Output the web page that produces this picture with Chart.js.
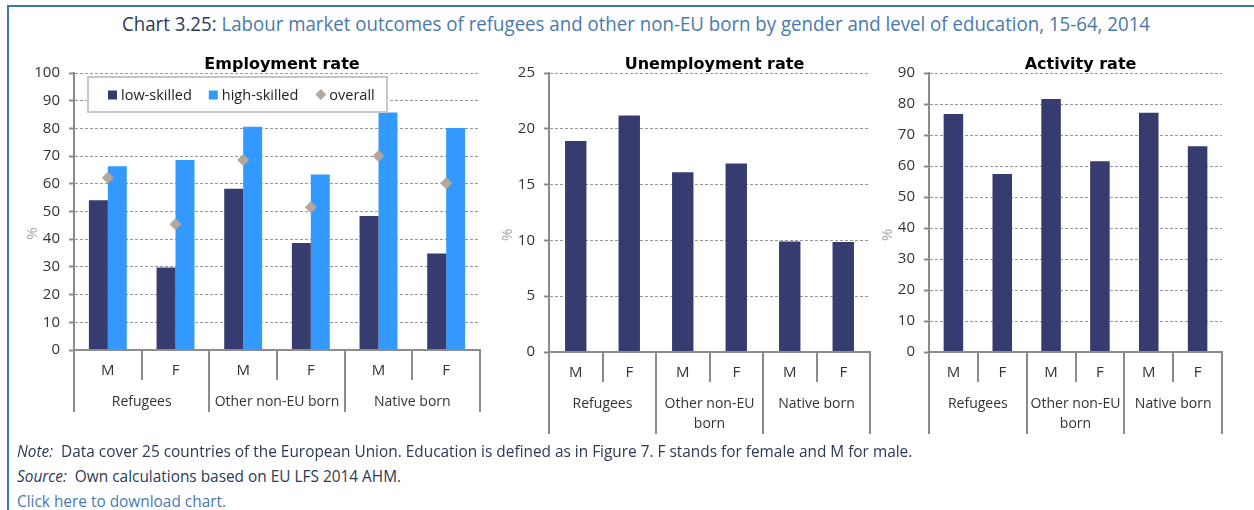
<!DOCTYPE html>
<html>
<head>
<meta charset="utf-8">
<script src="https://cdn.jsdelivr.net/npm/chart.js@4.4.1/dist/chart.umd.min.js"></script>
<style>
  html, body { margin: 0; padding: 0; background: #fff; }
  body { width: 1254px; height: 510px; overflow: hidden; position: relative; font-family: "Open Sans", sans-serif; }
  #frame { position: absolute; left: 7px; top: 5px; width: 1400px; height: 700px;
           border-left: 2px solid #3f73ad; border-top: 2px solid #3f73ad; }
  #title { position: absolute; left: 122px; top: 11px; font-size: 20px; line-height: 26px;
           color: #4a79ad; white-space: nowrap; transform-origin: 0 50%; }
  #title .num { color: #2b3a55; }
  canvas { position: absolute; top: 0; }
  .foot { position: absolute; left: 17px; font-size: 15.4px; line-height: 18px; color: #2b3a55; white-space: nowrap; }
  .foot.link { color: #4a79ad; }
</style>
</head>
<body>
<div id="frame"></div>
<div id="title"><span class="num">Chart 3.25:</span> Labour market outcomes of refugees and other non-EU born by gender and level of education, 15-64, 2014</div>
<canvas id="emp" width="490" height="445" style="left:0px"></canvas>
<canvas id="unemp" width="390" height="445" style="left:490px"></canvas>
<canvas id="act" width="374" height="445" style="left:880px"></canvas>
<div class="foot" style="top:443px"><i>Note:</i>&nbsp; Data cover 25 countries of the European Union. Education is defined as in Figure 7. F stands for female and M for male.</div>
<div class="foot" style="top:468px"><i>Source:</i>&nbsp; Own calculations based on EU LFS 2014 AHM.</div>
<div class="foot link" style="top:493px">Click here to download chart.</div>

<script>
// categories
const sexLabels = ['M', 'F', 'M', 'F', 'M', 'F'];
const groupLabels = ['Refugees', 'Other non-EU born', 'Native born'];

// employment rate (%)
const empLow = [54.1, 29.8, 58.2, 38.6, 48.4, 34.8];
const empHigh = [66.3, 68.6, 80.6, 63.4, 85.7, 80.1];
const empOverall = [62.2, 45.4, 68.6, 51.5, 70.0, 60.2];
// unemployment rate (%)
const unempRate = [18.9, 21.2, 16.1, 16.9, 9.9, 9.85];
// activity rate (%)
const actRate = [76.8, 57.4, 81.6, 61.5, 77.2, 66.4];

const NAVY = '#363b70';
const LIGHT = '#3399ff';
const TAUPE = '#b4a79d';
const AXIS = '#8c8c8c';

// fit title to the reference width
const t = document.getElementById('title');
t.style.transform = 'scaleX(' + (1028 / t.getBoundingClientRect().width) + ')';

function wrap(ctx, text, maxW) {
  const words = text.split(' ');
  const lines = [];
  let cur = '';
  words.forEach(w => {
    const test = cur ? cur + ' ' + w : w;
    if (cur && ctx.measureText(test).width > maxW) { lines.push(cur); cur = w; }
    else cur = test;
  });
  lines.push(cur);
  return lines;
}

function panelPlugin(cfg) {
  return {
    id: 'panel',
    afterDraw(chart) {
      const ctx = chart.ctx, a = chart.chartArea, x = chart.scales.x;
      const n = chart.data.labels.length;
      const per = n / groupLabels.length;
      const edge = i => i === 0 ? a.left : i === n ? a.right
        : (x.getPixelForValue(i - 1) + x.getPixelForValue(i)) / 2;
      ctx.save();

      // panel title
      ctx.fillStyle = '#000';
      ctx.font = 'bold 16px "DejaVu Sans"';
      ctx.textAlign = 'center';
      ctx.textBaseline = 'middle';
      ctx.fillText(cfg.title, (a.left + a.right) / 2 + 5, a.top - 8);

      // % axis label
      ctx.save();
      ctx.translate(a.left - 41, a.top + a.height * 0.58);
      ctx.rotate(-Math.PI / 2);
      ctx.fillStyle = '#a6a6a6';
      ctx.font = '15px "Open Sans"';
      ctx.fillText('%', 0, 0);
      ctx.restore();

      // two level category axis
      ctx.font = '14px "Open Sans"';
      const groupLines = groupLabels.map((g, k) => wrap(ctx, g, edge((k + 1) * per) - edge(k * per) - 6));
      const maxLines = Math.max(...groupLines.map(l => l.length));
      const gBottom = a.bottom + 42 + maxLines * 20;
      ctx.strokeStyle = AXIS;
      ctx.lineWidth = 2;
      ctx.beginPath();
      ctx.moveTo(a.left - 1, a.bottom);
      ctx.lineTo(a.right + 1, a.bottom);
      for (let i = 0; i <= n; i++) {
        const px = Math.round(edge(i));
        ctx.moveTo(px, a.bottom);
        ctx.lineTo(px, i % per === 0 ? gBottom : a.bottom + 30);
      }
      ctx.stroke();

      ctx.fillStyle = '#333';
      ctx.font = '15px "Open Sans"';
      chart.data.labels.forEach((s, i) => ctx.fillText(s, x.getPixelForValue(i), a.bottom + 21));
      ctx.font = '14px "Open Sans"';
      groupLines.forEach((lines, k) => {
        const cx = (edge(k * per) + edge((k + 1) * per)) / 2;
        lines.forEach((ln, j) => ctx.fillText(ln, cx, a.bottom + 52 + j * 20));
      });

      // legend box inside the plot
      if (cfg.legend) {
        const bx = a.left + 14, by = a.top + 4, bw = 299, bh = 35;
        ctx.fillStyle = '#fff';
        ctx.fillRect(bx, by, bw, bh);
        ctx.strokeStyle = '#c8c8c8';
        ctx.lineWidth = 2;
        ctx.strokeRect(bx, by, bw, bh);
        ctx.font = '14.5px "Open Sans"';
        ctx.textAlign = 'left';
        const cy = by + bh / 2;
        let cx = bx + 20;
        chart.data.datasets.forEach(ds => {
          ctx.fillStyle = ds.backgroundColor;
          let tx;
          if (ds.type === 'line') {
            ctx.fillStyle = ds.pointBackgroundColor;
            ctx.beginPath();
            ctx.moveTo(cx, cy); ctx.lineTo(cx + 5.5, cy - 5.5);
            ctx.lineTo(cx + 11, cy); ctx.lineTo(cx + 5.5, cy + 5.5);
            ctx.closePath(); ctx.fill();
            tx = cx + 14;
          } else {
            ctx.fillRect(cx, cy - 4, 9, 9);
            tx = cx + 13;
          }
          ctx.fillStyle = '#222';
          ctx.fillText(ds.label, tx, cy + 1);
          cx = tx + ctx.measureText(ds.label).width + 17;
        });
      }
      ctx.restore();
    }
  };
}

function yScale(max, step, width) {
  return {
    min: 0, max: max,
    afterFit: s => { s.width = width; },
    ticks: { stepSize: step, padding: 9, color: '#333', font: { family: 'Open Sans', size: 15 } },
    grid: { color: '#999', lineWidth: 1, tickLength: 5, tickColor: AXIS, tickWidth: 2 },
    border: { display: true, color: AXIS, width: 2, dash: [3, 2] }
  };
}

function makeChart(id, datasets, opts) {
  return new Chart(document.getElementById(id), {
    type: 'bar',
    data: { labels: sexLabels, datasets: datasets },
    options: {
      responsive: false,
      animation: false,
      layout: { padding: opts.padding },
      plugins: { legend: { display: false }, tooltip: { enabled: false } },
      scales: {
        x: { display: false },
        y: yScale(opts.max, opts.step, opts.yWidth)
      }
    },
    plugins: [panelPlugin(opts)]
  });
}

makeChart('emp', [
  { label: 'low-skilled', data: empLow, backgroundColor: NAVY, categoryPercentage: 0.56, barPercentage: 1, order: 1 },
  { label: 'high-skilled', data: empHigh, backgroundColor: LIGHT, categoryPercentage: 0.56, barPercentage: 1, order: 1 },
  { label: 'overall', type: 'line', data: empOverall, showLine: false, pointStyle: 'rectRot',
    pointRadius: 6, pointBackgroundColor: TAUPE, pointBorderWidth: 0, backgroundColor: TAUPE, order: 0 }
], { title: 'Employment rate', legend: true, max: 100, step: 10, yWidth: 74,
     padding: { top: 73, bottom: 95, left: 0, right: 10 } });

makeChart('unemp', [
  { label: 'Unemployment rate', data: unempRate, backgroundColor: NAVY, categoryPercentage: 0.4, barPercentage: 1 }
], { title: 'Unemployment rate', max: 25, step: 5, yWidth: 59,
     padding: { top: 73, bottom: 93, left: 0, right: 10 } });

makeChart('act', [
  { label: 'Activity rate', data: actRate, backgroundColor: NAVY, categoryPercentage: 0.4, barPercentage: 1 }
], { title: 'Activity rate', max: 90, step: 10, yWidth: 49,
     padding: { top: 73, bottom: 93, left: 0, right: 32 } });
</script>
</body>
</html>
